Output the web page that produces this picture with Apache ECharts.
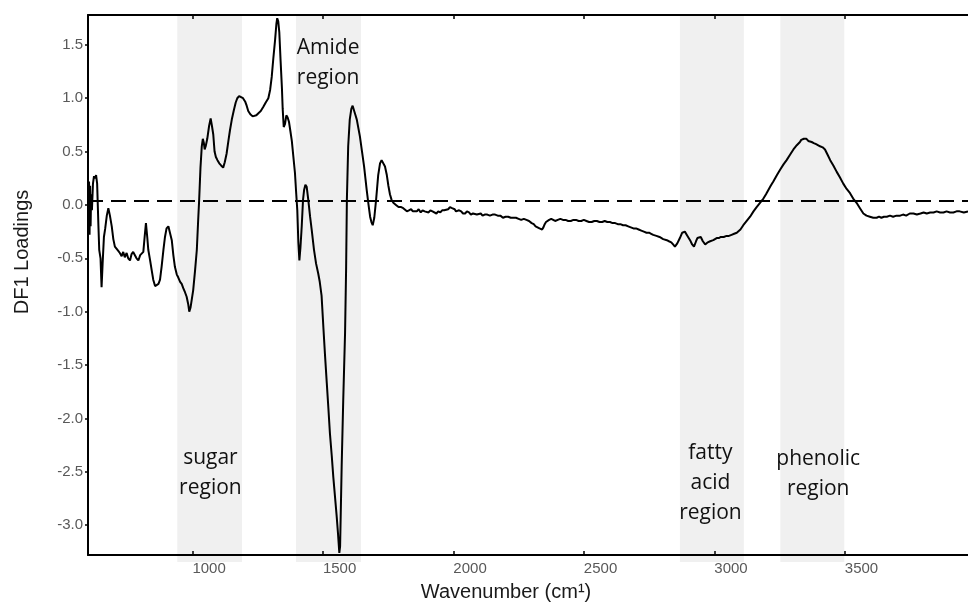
<!DOCTYPE html>
<html>
<head>
<meta charset="utf-8">
<script src="https://cdn.jsdelivr.net/npm/echarts@6/dist/echarts.min.js"></script>
<style>
html,body{margin:0;padding:0;background:#fff;}
#chart{width:968px;height:608px;}
</style>
</head>
<body>
<div id="chart"></div>
<script>
// ---- data ----
const wavenumber = [
600,602,604,606,608,610,612,615,619,623,627,631,635,640,643,648,652,656,661,666,672,678,684,691,697,703,710,716,722,729,735,741,748,754,761,767,773,780,786,793,800,806,812,817,822,827,831,838,844,850,857,863,870,876,882,889,895,901,908,914,921,927,933,940,946,953,959,965,972,978,984,988,993,998,
1003,1010,1017,1022,1026,1031,1036,1040,1044,1047,1051,1057,1064,1070,1075,1080,1085,1090,1096,1103,1110,1118,1124,1131,1138,1144,1151,1159,1166,1172,1179,1186,1194,
1202,1208,1214,1222,1231,1238,1245,1253,1262,1272,1281,1291,1298,1304,1310,1317,1322,1325,1329,1333,1338,1343,1346,1350,1355,1360,1365,1370,1375,1381,1387,1393,1398,
1402,1406,1410,1414,1419,1424,1428,1433,1438,1444,1451,1458,1466,1474,1482,1488,1495,
1502,1508,1515,1521,1527,1534,1540,1547,1553,1558,1563,1566,1568,1572,1578,1585,1589,1592,1597,
1603,1609,1614,1620,1625,1630,1636,1642,1650,1658,1663,1668,1675,1681,1686,1691,1697,
1704,1712,1719,1725,1732,1738,1745,1751,1757,1763,1770,1780,1790,1800,1808,1815,1822,1830,1838,1845,1852,1860,1867,1875,1882,1890,1897,1905,1912,1920,1927,1935,1942,1950,1957,1965,1972,1980,1987,1995,
2005,2010,2015,2022,2030,2037,2045,2052,2060,2067,2075,2082,2090,2097,2105,2112,2120,2130,2140,2150,2160,2170,2180,2190,2200,2210,2220,2230,2240,2250,2260,2270,2280,2290,2300,2308,2315,2322,2330,2335,2340,2345,2350,2355,2360,2367,2375,2382,2390,2400,2410,2420,2430,2440,2450,2460,2470,2480,2490,
2500,2510,2520,2530,2540,2550,2560,2570,2580,2590,2600,2610,2620,2630,2640,2650,2660,2670,2680,2690,2700,2710,2720,2730,2740,2750,2758,2766,2778,2790,2804,2818,2826,2835,2842,2849,2858,2868,2877,2887,2897,2907,2915,2922,2930,2935,2941,2948,2956,2965,2975,2984,2996,
3009,3017,3025,3036,3047,3056,3066,3076,3086,3093,3100,3111,3124,3137,3150,3162,3175,3188,3198,3207,3216,3226,3240,3252,3265,3277,3290,3303,3316,3328,3333,3338,3343,3347,3353,3360,3366,3373,3381,3390,3397,3405,3415,3424,3434,3444,3456,3469,3481,3494,
3507,3520,3532,3545,3558,3571,3583,3596,3609,3622,3631,3640,3650,3661,3673,3685,3698,3712,3723,3735,3749,3763,3776,3790,3802,3814,3827,3840,3852,3865,3878,3890,3903,3916,3928,3940,3956,3972
];
const loadings = [
0.15,-0.25,0.22,-0.28,0.18,-0.20,0.10,-0.05,0.20,0.27,0.25,0.28,0.20,-0.20,-0.42,-0.50,-0.77,-0.55,-0.30,-0.22,-0.10,-0.03,-0.10,-0.20,-0.32,-0.39,-0.40,-0.43,-0.45,-0.48,-0.44,-0.49,-0.45,-0.50,-0.52,-0.46,-0.44,-0.43,-0.50,-0.52,-0.47,-0.46,-0.44,-0.30,-0.17,-0.30,-0.42,-0.52,-0.61,-0.70,-0.76,-0.77,-0.74,-0.70,-0.58,-0.42,-0.30,-0.22,-0.20,-0.26,-0.33,-0.47,-0.58,-0.65,-0.68,-0.72,-0.74,-0.78,-0.82,-0.86,-0.93,-1.00,-0.96,-0.88,
-0.80,-0.62,-0.42,-0.15,0.05,0.35,0.55,0.62,0.58,0.52,0.55,0.62,0.74,0.81,0.74,0.66,0.50,0.45,0.42,0.39,0.37,0.35,0.40,0.48,0.60,0.70,0.80,0.89,0.96,1.00,1.02,1.02,1.00,
0.97,0.93,0.88,0.85,0.83,0.84,0.84,0.86,0.88,0.92,0.96,1.00,1.08,1.20,1.37,1.55,1.70,1.75,1.72,1.62,1.35,1.10,0.90,0.73,0.76,0.84,0.82,0.78,0.70,0.60,0.45,0.30,0.10,
-0.05,-0.35,-0.52,-0.40,-0.20,0.05,0.14,0.19,0.17,0.05,-0.11,-0.25,-0.42,-0.55,-0.64,-0.72,-0.85,
-1.15,-1.40,-1.67,-1.90,-2.14,-2.35,-2.55,-2.75,-2.92,-3.08,-3.26,-3.20,-2.95,-2.45,-1.83,-1.20,-0.60,0.05,0.55,
0.80,0.90,0.93,0.88,0.84,0.80,0.72,0.64,0.50,0.36,0.25,0.14,0.00,-0.11,-0.16,-0.19,-0.12,
0.05,0.28,0.39,0.42,0.42,0.36,0.28,0.18,0.10,0.05,0.02,0.00,-0.02,-0.02,-0.03,-0.04,-0.06,-0.05,-0.04,-0.06,-0.05,-0.06,-0.04,-0.07,-0.05,-0.06,-0.05,-0.07,-0.05,-0.06,-0.07,-0.08,-0.06,-0.07,-0.05,-0.05,-0.04,-0.04,-0.02,-0.03,
-0.04,-0.06,-0.07,-0.05,-0.06,-0.08,-0.08,-0.06,-0.07,-0.09,-0.08,-0.07,-0.09,-0.08,-0.08,-0.10,-0.09,-0.09,-0.10,-0.09,-0.09,-0.10,-0.10,-0.12,-0.11,-0.11,-0.12,-0.12,-0.12,-0.13,-0.14,-0.13,-0.14,-0.15,-0.17,-0.18,-0.20,-0.21,-0.22,-0.23,-0.23,-0.21,-0.18,-0.16,-0.15,-0.14,-0.13,-0.14,-0.15,-0.14,-0.13,-0.14,-0.14,-0.15,-0.15,-0.14,-0.14,-0.15,-0.15,
-0.14,-0.15,-0.16,-0.16,-0.15,-0.15,-0.16,-0.16,-0.15,-0.16,-0.16,-0.17,-0.17,-0.18,-0.18,-0.19,-0.19,-0.20,-0.21,-0.22,-0.22,-0.23,-0.24,-0.25,-0.26,-0.26,-0.27,-0.28,-0.29,-0.30,-0.32,-0.33,-0.34,-0.35,-0.37,-0.39,-0.36,-0.31,-0.26,-0.25,-0.29,-0.33,-0.37,-0.39,-0.34,-0.31,-0.30,-0.30,-0.34,-0.37,-0.35,-0.34,-0.33,
-0.31,-0.31,-0.30,-0.30,-0.29,-0.29,-0.28,-0.27,-0.26,-0.25,-0.23,-0.19,-0.15,-0.11,-0.06,-0.02,0.02,0.06,0.10,0.14,0.18,0.22,0.28,0.33,0.38,0.42,0.47,0.52,0.56,0.59,0.61,0.60,0.62,0.61,0.62,0.60,0.60,0.59,0.58,0.57,0.56,0.55,0.54,0.52,0.47,0.42,0.37,0.31,0.26,0.20,
0.15,0.11,0.06,0.02,-0.03,-0.08,-0.10,-0.11,-0.12,-0.12,-0.11,-0.12,-0.11,-0.11,-0.10,-0.11,-0.10,-0.10,-0.09,-0.10,-0.08,-0.08,-0.09,-0.08,-0.07,-0.08,-0.07,-0.07,-0.06,-0.07,-0.07,-0.06,-0.07,-0.07,-0.06,-0.06,-0.07,-0.06
];
const xTicks = [1000, 1500, 2000, 2500, 3000, 3500];
const yTicks = [-3.0, -2.5, -2.0, -1.5, -1.0, -0.5, 0.0, 0.5, 1.0, 1.5];
const baselineValue = 0.04;
const regionStart = [942, 1397, 2868, 3253];
const regionEnd = [1190, 1646, 3113, 3498];
const regionLabels = ['sugar\nregion', 'Amide\nregion', 'fatty\nacid\nregion', 'phenolic\nregion'];
const regionLabelX = [1069, 1520, 2985, 3398];
const regionLabelY = [-2.51, 1.33, -2.61, -2.52];

const X_MIN = 600, X_MAX = 3972, Y_MIN = -3.28, Y_MAX = 1.78;

const lineData = wavenumber.map((w, i) => [w, loadings[i]]);
const bandData = regionStart.map((s, i) => [s, regionEnd[i], 0]);
const labelData = regionLabelX.map((x, i) => ({value: [x, regionLabelY[i]], name: regionLabels[i]}));

const chart = echarts.init(document.getElementById('chart'), null, {renderer: 'canvas'});
const tickFont = {fontFamily: 'Liberation Sans, Arial, sans-serif', fontSize: 15, color: '#595959'};
chart.setOption({
  animation: false,
  backgroundColor: '#fff',
  grid: {left: 88, right: 0, top: 15, bottom: 53, containLabel: false, outerBoundsMode: 'none'},
  xAxis: [{
    type: 'value', min: X_MIN, max: X_MAX, position: 'bottom', z: 5,
    splitLine: {show: false},
    axisLine: {show: true, onZero: false, lineStyle: {color: '#000', width: 2}},
    axisTick: {show: true, inside: true, length: 4, customValues: xTicks, lineStyle: {color: '#000', width: 1.5}},
    axisLabel: Object.assign({show: true, customValues: xTicks, align: 'left', margin: 6, formatter: v => String(v)}, tickFont)
  }, {
    type: 'value', min: X_MIN, max: X_MAX, position: 'top', z: 5,
    splitLine: {show: false},
    axisLine: {show: true, onZero: false, lineStyle: {color: '#000', width: 2}},
    axisTick: {show: true, inside: true, length: 4, customValues: xTicks, lineStyle: {color: '#000', width: 1.5}},
    axisLabel: {show: false}
  }],
  yAxis: {
    type: 'value', min: Y_MIN, max: Y_MAX, z: 5,
    splitLine: {show: false},
    axisLine: {show: true, onZero: false, lineStyle: {color: '#000', width: 2}},
    axisTick: {show: true, inside: false, length: 3, customValues: yTicks, lineStyle: {color: '#000', width: 1.5}},
    axisLabel: Object.assign({show: true, customValues: yTicks, margin: 5, formatter: v => v.toFixed(1)}, tickFont)
  },
  graphic: [
    {type: 'text', style: {text: 'Wavenumber (cm¹)', x: 506, y: 592, fill: '#1a1a1a',
      font: '20px "Liberation Sans", Arial, sans-serif', align: 'center', verticalAlign: 'middle'}},
    {type: 'text', x: 22, y: 252, rotation: Math.PI / 2, style: {text: 'DF1 Loadings', x: 0, y: 0, fill: '#1a1a1a',
      font: '20px "Liberation Sans", Arial, sans-serif', align: 'center', verticalAlign: 'middle'}}
  ],
  series: [{
    type: 'custom', xAxisIndex: 0, yAxisIndex: 0, clip: false, silent: true, z: 0,
    data: bandData,
    encode: {x: [0, 1], y: 2},
    renderItem: (params, api) => {
      const p0 = api.coord([api.value(0), Y_MAX]);
      const p1 = api.coord([api.value(1), Y_MIN]);
      return {type: 'rect', shape: {x: p0[0], y: p0[1], width: p1[0] - p0[0], height: p1[1] - p0[1] + 7},
        style: {fill: '#f0f0f0'}};
    }
  }, {
    type: 'line', xAxisIndex: 0, yAxisIndex: 0, data: lineData, showSymbol: false, symbol: 'none', z: 3,
    lineStyle: {color: '#000', width: 2}, silent: true,
    markLine: {silent: true, symbol: 'none', label: {show: false},
      lineStyle: {color: '#000', width: 2, type: [15, 8]},
      data: [{yAxis: baselineValue}]}
  }, {
    type: 'scatter', xAxisIndex: 0, yAxisIndex: 0, data: labelData, symbolSize: 0, z: 4, silent: true,
    itemStyle: {opacity: 1, color: '#000'},
    label: {show: true, position: 'inside', formatter: p => p.name, color: '#111', opacity: 1,
      textBorderWidth: 0, fontFamily: 'Open Sans', fontSize: 21, lineHeight: 30, align: 'center', verticalAlign: 'middle'}
  }]
});
</script>
</body>
</html>
